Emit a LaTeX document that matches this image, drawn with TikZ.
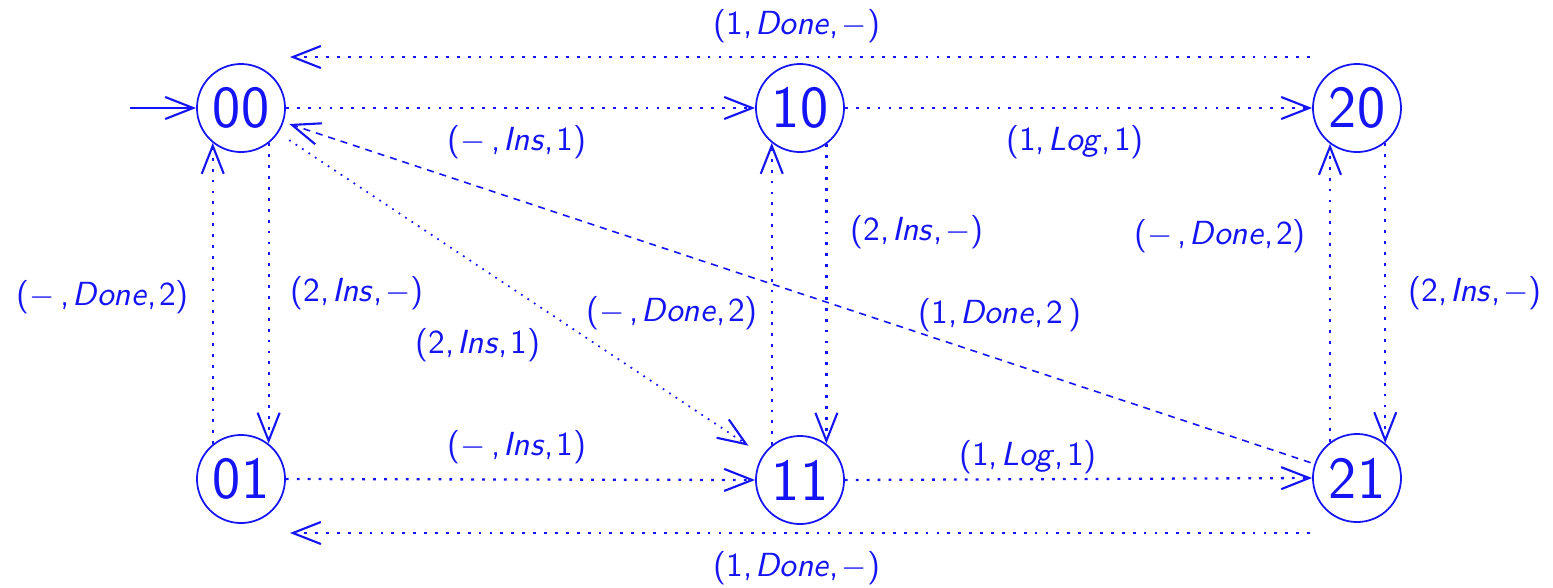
\documentclass[tikz,border=0pt]{standalone}
\usetikzlibrary{arrows.meta}
\definecolor{automblue}{RGB}{20,20,245}
\begin{document}
\begin{tikzpicture}[x=0.01cm,y=-0.01cm,
  state/.style={circle,draw=automblue,line width=0.5pt,minimum size=0.88cm,inner sep=0pt,
    text=automblue,font=\sffamily\fontsize{17}{18}\selectfont},
  lbl/.style={text=automblue,inner sep=1pt,font=\sffamily\fontsize{9.5}{11}\selectfont},
  tip/.style={-{Straight Barb[length=2.8mm,width=2.2mm,line width=0.6pt]}},
  trans/.style={draw=automblue,line width=0.65pt,dash pattern=on 0.8pt off 2.3pt,tip},
  finedot/.style={draw=automblue,line width=0.5pt,dash pattern=on 0.5pt off 1.7pt,tip},
  finedash/.style={draw=automblue,line width=0.45pt,dash pattern=on 2pt off 1.7pt,tip},
  initarrow/.style={draw=automblue,line width=0.7pt,tip}
]
\useasboundingbox (0,0) rectangle (1553,587);

% states
\node[state] (00) at (241,108) {00};
\node[state] (10) at (800,108) {10};
\node[state] (20) at (1357,108) {20};
\node[state] (01) at (241,479) {01};
\node[state] (11) at (800,480) {11};
\node[state] (21) at (1357,478) {21};

% free ends of the long return edges and the initial arrow
\coordinate (init) at (130,108);
\coordinate (topR) at (1310,57);
\coordinate (topL) at (290,57);
\coordinate (botR) at (1310,533);
\coordinate (botL) at (290,533);

% initial arrow
\draw[initarrow] (init) -- (00);

% horizontal transitions
\draw[trans] (00) -- (10);
\draw[trans] (10) -- (20);
\draw[trans] (01.east) -- (11.west);
\draw[trans] (11.east) -- (21.west);
\draw[trans] (topR) -- (topL);
\draw[trans] (botR) -- (botL);

% vertical transitions
\draw[trans] (01.129) -- (00.231);
\draw[trans] (00.308) -- (01.52);
\draw[trans] (11.129) -- (10.231);
\draw[trans] (10.306) -- (11.54);
\draw[trans] (21.127) -- (20.233);
\draw[trans] (20.309) -- (21.51);

% diagonal transitions
\draw[finedot,shorten <=0.13cm,shorten >=0.17cm] (00) -- (11);
\draw[finedash,shorten <=0.04cm,shorten >=0.06cm] (21) -- (00);

% labels
\newcommand{\cm}{,\kern0.8pt}
\node[lbl] (lt)  at (797,26)  {(1\cm\textit{Done}\cm$-$)};
\node[lbl] (l1)  at (517,142) {($-$\,\cm\textit{Ins}\cm1)};
\node[lbl] (l2)  at (1075,142) {(1\cm\textit{Log}\cm1)};
\node[lbl] (l3)  at (103,297) {($-$\,\cm\textit{Done}\cm2)};
\node[lbl] (l4)  at (357,293) {(2\cm\textit{Ins}\cm$-$)};
\node[lbl] (l5)  at (478,345) {(2\cm\textit{Ins}\cm1)};
\node[lbl] (l6)  at (672,313) {($-$\,\cm\textit{Done}\cm2)};
\node[lbl] (l7)  at (917,232) {(2\cm\textit{Ins}\cm$-$)};
\node[lbl] (l8)  at (1000,315) {(1\cm\textit{Done}\cm2\,)};
\node[lbl] (l9)  at (1220,236) {($-$\,\cm\textit{Done}\cm2)};
\node[lbl] (l10) at (1475,293) {(2\cm\textit{Ins}\cm$-$)};
\node[lbl] (l11) at (517,447) {($-$\,\cm\textit{Ins}\cm1)};
\node[lbl] (l12) at (1028,457) {(1\cm\textit{Log}\cm1)};
\node[lbl] (lb)  at (797,568) {(1\cm\textit{Done}\cm$-$)};
\end{tikzpicture}
\end{document}
